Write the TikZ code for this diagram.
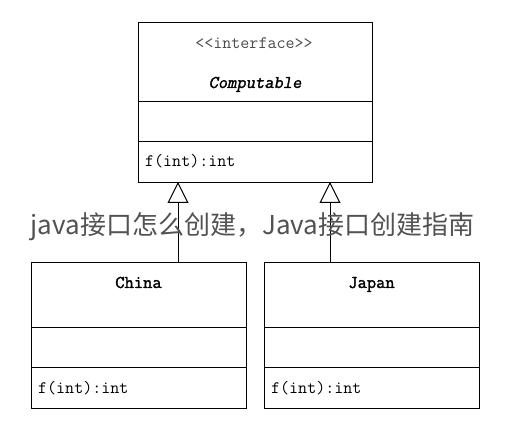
\documentclass[tikz,border=0pt]{standalone}
\usepackage{fontspec}
\newfontfamily\cjk{Noto Sans CJK SC}
\newfontfamily\boldmono[FakeBold=1.6]{Latin Modern Mono}
\newfontfamily\boldslmono[FakeBold=1.6, FakeSlant=0.2]{Latin Modern Mono}
\usetikzlibrary{arrows.meta}
\tikzset{
  umlbox/.style={draw=black, line width=1pt, anchor=north west, inner sep=0pt, rectangle},
  divider/.style={draw=black, line width=1pt},
  member/.style={font=\ttfamily\fontsize{17.5}{17.5}\selectfont, anchor=base west, inner sep=0pt},
  classname/.style={font=\boldmono\fontsize{18}{18}\selectfont, anchor=base, inner sep=0pt},
  realize/.style={draw=black, line width=1pt, -{Triangle[open, length=21pt, width=21pt, line width=1pt]}},
  mark text/.style={font=\cjk\fontsize{26}{26}\selectfont, text=black!68, inner sep=0pt}
}
\begin{document}
\begin{tikzpicture}[x=1pt, y=-1pt]
\useasboundingbox[fill=white] (0,0) rectangle (512,438);
% interface box
\node[umlbox, minimum width=234pt, minimum height=160pt] (iface) at (138,22) {};
\draw[divider] (138,102) coordinate (i1l) -- (372,102) coordinate (i1r);
\draw[divider] (138,142) coordinate (i2l) -- (372,142) coordinate (i2r);
\node[font=\ttfamily\fontsize{17.5}{17.5}\selectfont, text=black!70, anchor=base, inner sep=0pt] (stereo) at (254,49) {<{}<interface>{}>};
\node[classname, font=\boldslmono\fontsize{18}{18}\selectfont] (iname) at (255,88) {Computable};
\node[member] (imeth) at (145,167) {f(int):int};
% China box
\node[umlbox, minimum width=215pt, minimum height=146pt] (china) at (31,262) {};
\draw[divider] (31,328) -- (246,328);
\draw[divider] (31,368) -- (246,368);
\node[classname] (cname) at (138.5,288) {China};
\node[member] (cmeth) at (38,394) {f(int):int};
% Japan box
\node[umlbox, minimum width=215pt, minimum height=146pt] (japan) at (264,262) {};
\draw[divider] (264,328) -- (479,328);
\draw[divider] (264,368) -- (479,368);
\node[classname] (jname) at (371.5,288) {Japan};
\node[member] (jmeth) at (271,394) {f(int):int};
% realizations
\coordinate (cto) at (178,182);
\coordinate (cfrom) at (178,262);
\coordinate (jto) at (330,182);
\coordinate (jfrom) at (330,262);
\draw[realize] (cfrom) -- (cto);
\draw[realize] (jfrom) -- (jto);
% overlay text
\node[mark text] (wm) at (252.5,227) {java接口怎么创建，Java接口创建指南};
\end{tikzpicture}
\end{document}
